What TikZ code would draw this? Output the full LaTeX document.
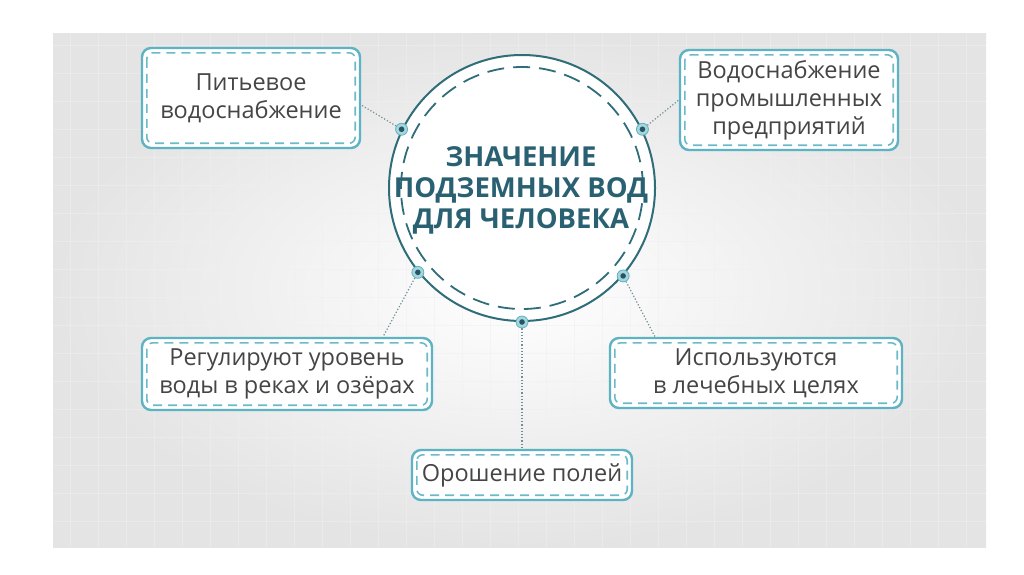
\documentclass[tikz,border=0pt]{standalone}
\usepackage{fontspec}
\setmainfont{Open Sans}
\usetikzlibrary{calc}
\definecolor{boxteal}{HTML}{5DB2C3}
\definecolor{dashteal}{HTML}{6DB9C9}
\definecolor{circteal}{HTML}{2F6D79}
\definecolor{titleteal}{HTML}{2A6172}
\definecolor{txtgray}{HTML}{454545}
\definecolor{conngray}{HTML}{708E94}
\definecolor{panelgray}{HTML}{E4E4E4}
\tikzset{
  box/.style={draw=boxteal, line width=2.4pt, rounded corners=9pt, fill=white,
    align=center, text=txtgray, font=\fontsize{23.5}{28}\selectfont, inner sep=0pt},
  innerdash/.style={draw=dashteal, line width=1.6pt, dash pattern=on 9pt off 6pt, rounded corners=6pt},
  conn/.style={draw=conngray, line width=1.2pt, dotted},
  dotring/.style={fill=boxteal!55, draw=boxteal, line width=0.8pt},
  dotcore/.style={fill=circteal!80!black},
}
\begin{document}
\begin{tikzpicture}[x=1pt,y=-1pt]
\useasboundingbox (0,0) rectangle (1024,574);
\fill[white] (0,0) rectangle (1024,574);
\shade[inner color=white, outer color=panelgray] (53,33) rectangle (986,547);
\begin{scope}
\clip (53,33) rectangle (986,547);
\foreach \x in {70,98,...,986} \draw[gray!12, line width=0.5pt, opacity=0.5] (\x,33) -- (\x,547);
\foreach \y in {45,73,...,547} \draw[gray!12, line width=0.5pt, opacity=0.5] (53,\y) -- (986,\y);
\end{scope}

% central circle
\node[circle, draw=circteal, line width=2pt, fill=white, minimum size=266pt, inner sep=0pt] (c) at (522,188) {};
\draw[circteal, line width=1.8pt, dash pattern=on 17pt off 9pt] (c.center) circle (121pt);
\node[align=center, text=titleteal, font=\fontsize{27.5}{31}\selectfont\bfseries] (title) at (521,190) {ЗНАЧЕНИЕ\\ПОДЗЕМНЫХ ВОД\\ДЛЯ ЧЕЛОВЕКА};

% boxes
\node[box, minimum width=218pt, minimum height=100pt] (b1) at (251,98) {Питьевое\\водоснабжение};
\node[box, minimum width=218pt, minimum height=100pt] (b2) at (789,100) {Водоснабжение\\промышленных\\предприятий};
\node[box, minimum width=290pt, minimum height=72pt] (b3) at (287,374) {Регулируют уровень\\воды в реках и озёрах};
\node[box, minimum width=292pt, minimum height=70pt] (b4) at (756,373) {Используются\\в лечебных целях};
\node[box, minimum width=220pt, minimum height=50pt] (b5) at (522,475) {Орошение полей};

\foreach \b in {b1,b2,b3,b4,b5}
  \draw[innerdash] ([shift={(6pt,-6pt)}]\b.north west) rectangle ([shift={(-6pt,6pt)}]\b.south east);

% connectors
\coordinate (d1) at (c.154);
\coordinate (d2) at (c.26);
\coordinate (d3) at (c.219);
\coordinate (d4) at (c.319);
\coordinate (d5) at (c.270);
\draw[conn] (d1) -- ([yshift=-7pt]b1.east);
\draw[conn] (d2) -- (b2.west);
\draw[conn] (d3) -- ([xshift=96pt]b3.north);
\draw[conn] (d4) -- ([xshift=-101pt]b4.north);
\draw[conn] (d5) -- (b5.north);

\foreach \d in {d1,d2,d3,d4,d5} {
  \fill[dotring] (\d) circle (6pt);
  \fill[dotcore] (\d) circle (2.8pt);
}
\end{tikzpicture}
\end{document}
